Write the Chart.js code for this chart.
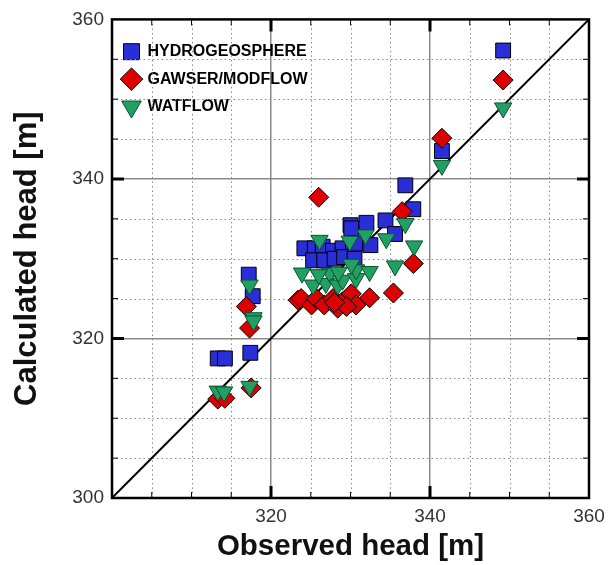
<!DOCTYPE html>
<html>
<head>
<meta charset="utf-8">
<script src="https://cdn.jsdelivr.net/npm/chart.js@4"></script>
<style>
  html, body { margin: 0; padding: 0; background: #fff; }
  #wrap { width: 614px; height: 565px; }
</style>
</head>
<body>
<div id="wrap"><canvas id="headChart"></canvas></div>
<script>
// observed vs calculated heads
const hgsObs  = [313.3, 314.2, 317.4, 317.7, 317.2, 324.2, 325.5, 326.5, 327.8, 329.0, 330.3, 325.3, 326.7, 328.0, 329.2, 330.5, 330.6, 332.5, 330.0, 330.1, 332.0, 334.4, 335.6, 337.9, 336.9, 341.5, 349.2];
const hgsCalc = [317.5, 317.5, 318.2, 325.3, 328.0, 331.3, 331.3, 331.5, 331.0, 331.3, 330.8, 329.8, 329.8, 330.0, 330.2, 330.0, 331.9, 331.7, 334.2, 333.8, 334.5, 334.8, 333.1, 336.2, 339.2, 343.5, 356.1];

const gawObs  = [313.3, 314.2, 317.5, 317.3, 316.9, 323.4, 323.8, 325.1, 325.7, 326.7, 327.8, 328.4, 329.0, 330.1, 330.7, 329.5, 328.0, 332.4, 335.4, 337.9, 336.5, 326.0, 341.5, 349.2];
const gawCalc = [312.4, 312.5, 313.8, 321.3, 324.0, 324.8, 325.0, 324.2, 325.0, 324.2, 325.0, 323.8, 324.6, 325.6, 324.2, 324.0, 324.5, 325.1, 325.7, 329.4, 335.9, 337.7, 345.1, 352.4];

const watObs  = [313.3, 314.1, 317.3, 317.8, 317.8, 317.3, 323.9, 325.3, 326.9, 327.4, 328.4, 329.0, 330.7, 330.7, 330.1, 326.0, 328.5, 332.4, 335.6, 338.0, 326.1, 329.9, 331.9, 334.5, 336.9, 341.5, 349.2];
const watCalc = [313.4, 313.3, 314.0, 322.6, 322.2, 326.7, 328.2, 326.7, 326.9, 328.2, 326.7, 327.3, 327.5, 328.6, 329.3, 328.0, 328.3, 328.4, 329.1, 331.6, 332.3, 332.2, 333.0, 332.5, 334.4, 341.7, 348.9];

const oneToOne = [300, 360];
const axisMin = 300, axisMax = 360, minorStep = 5, majorStep = 20;

function pairs(xs, ys) {
  return xs.map((x, i) => ({x: x, y: ys[i]}));
}

// dotted minor grid, inward tick marks + black frame
const frameTicks = {
  id: 'frameTicks',
  beforeDatasetsDraw(chart) {
    const {ctx, chartArea: a} = chart;
    const xs = chart.scales.x, ys = chart.scales.y;
    ctx.save();
    ctx.strokeStyle = '#8a8a8a';
    ctx.lineWidth = 1;
    ctx.setLineDash([1.5, 3]);
    for (let v = axisMin + minorStep; v < axisMax; v += minorStep) {
      if (v % majorStep === 0) continue;
      const px = Math.round(xs.getPixelForValue(v)) + 0.5;
      const py = Math.round(ys.getPixelForValue(v)) + 0.5;
      ctx.beginPath();
      ctx.moveTo(px, a.top); ctx.lineTo(px, a.bottom);
      ctx.moveTo(a.left, py); ctx.lineTo(a.right, py);
      ctx.stroke();
    }
    ctx.restore();
  },
  afterDraw(chart) {
    const {ctx, chartArea: a} = chart;
    const xs = chart.scales.x, ys = chart.scales.y;
    ctx.save();
    ctx.strokeStyle = '#000';
    for (let v = axisMin + minorStep; v < axisMax; v += minorStep) {
      const major = v % majorStep === 0;
      const len = major ? 12 : 6;
      ctx.lineWidth = major ? 3 : 1;
      const px = xs.getPixelForValue(v);
      const py = ys.getPixelForValue(v);
      ctx.beginPath();
      ctx.moveTo(px, a.bottom); ctx.lineTo(px, a.bottom - len);
      ctx.moveTo(px, a.top); ctx.lineTo(px, a.top + len);
      ctx.moveTo(a.left, py); ctx.lineTo(a.left + len, py);
      ctx.moveTo(a.right, py); ctx.lineTo(a.right - len, py);
      ctx.stroke();
    }
    ctx.lineWidth = 2.5;
    ctx.strokeRect(a.left, a.top, a.right - a.left, a.bottom - a.top);
    ctx.restore();
  }
};

const gridOpts = {
  // library grid only draws the solid major lines, minor ones come from the plugin
  color: (c) => {
    const v = c.tick ? c.tick.value : null;
    if (v === axisMin || v === axisMax || v % majorStep !== 0) return 'rgba(0,0,0,0)';
    return '#8a8a8a';
  },
  lineWidth: 1.5,
  drawTicks: false
};

new Chart(document.getElementById('headChart'), {
  type: 'scatter',
  data: {
    datasets: [
      {
        label: 'HYDROGEOSPHERE',
        data: pairs(hgsObs, hgsCalc),
        pointStyle: 'rect',
        pointRadius: 10.5,
        backgroundColor: '#2a2ed6',
        borderColor: '#000',
        borderWidth: 1,
        order: 3
      },
      {
        label: 'GAWSER/MODFLOW',
        data: pairs(gawObs, gawCalc),
        pointStyle: 'rectRot',
        pointRadius: 10,
        backgroundColor: '#dd0000',
        borderColor: '#000',
        borderWidth: 1,
        order: 2
      },
      {
        label: 'WATFLOW',
        data: pairs(watObs, watCalc),
        pointStyle: 'triangle',
        rotation: 180,
        pointRadius: 10,
        backgroundColor: '#20a062',
        borderColor: '#0d5030',
        borderWidth: 1,
        order: 1
      },
      {
        label: '1:1',
        data: pairs(oneToOne, oneToOne),
        showLine: true,
        borderColor: '#000',
        borderWidth: 2,
        pointRadius: 0,
        order: 10
      }
    ]
  },
  options: {
    responsive: true,
    maintainAspectRatio: false,
    animation: false,
    layout: { padding: { top: 16, right: 25, left: 0, bottom: 0 } },
    plugins: {
      tooltip: { enabled: false },
      legend: {
        position: 'chartArea',
        align: 'start',
        title: { display: true, text: ' ', font: { size: 1 }, padding: { top: 16, bottom: 15, left: 0, right: 0 } },
        labels: {
          usePointStyle: true,
          padding: 11.5,
          color: '#000',
          font: { family: 'Liberation Sans, Arial', size: 16, weight: 'bold' },
          filter: (item) => item.text !== '1:1',
          sort: (a, b) => a.datasetIndex - b.datasetIndex
        }
      }
    },
    scales: {
      x: {
        type: 'linear',
        min: axisMin,
        max: axisMax,
        afterFit: (s) => { s.height = 67; },
        ticks: {
          stepSize: minorStep,
          padding: 7,
          color: '#333',
          font: { family: 'Liberation Sans, Arial', size: 19 },
          callback: (v) => (v % majorStep === 0 && v !== axisMin ? v : '')
        },
        grid: gridOpts,
        border: { display: false },
        title: {
          display: true,
          text: 'Observed head [m]',
          color: '#111',
          font: { family: 'Liberation Sans, Arial', size: 29.5, weight: 'bold' },
          padding: { top: 6, bottom: 0 }
        }
      },
      y: {
        type: 'linear',
        min: axisMin,
        max: axisMax,
        afterFit: (s) => { s.width = 112; },
        ticks: {
          stepSize: minorStep,
          padding: 8,
          color: '#333',
          font: { family: 'Liberation Sans, Arial', size: 19 },
          callback: (v) => (v % majorStep === 0 ? v : '')
        },
        grid: gridOpts,
        border: { display: false },
        title: {
          display: true,
          text: 'Calculated head [m]',
          color: '#111',
          font: { family: 'Liberation Sans, Arial', size: 31, weight: 'bold' },
          padding: { top: 9, bottom: 0 }
        }
      }
    }
  },
  plugins: [frameTicks]
});
</script>
</body>
</html>
